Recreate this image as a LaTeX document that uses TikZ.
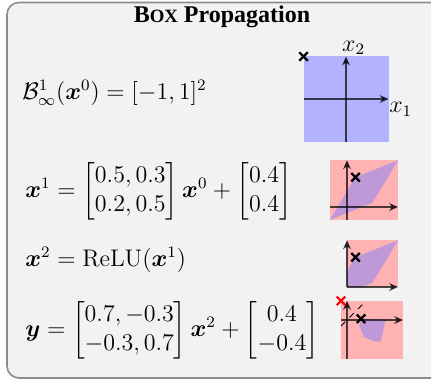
\documentclass[tikz,border=0pt]{standalone}
\usepackage{amsmath,bm}
\usepackage[no-math]{fontspec}
\newfontfamily\titlefont{Liberation Serif}
\usetikzlibrary{arrows.meta}
\newcommand\Cross[2]{%
    \draw[#2, line width=1.1pt] #1 ++(-0.1,-0.1) -- ++(0.2,0.2);%
    \draw[#2, line width=1.1pt] #1 ++(-0.1,0.1) -- ++(0.2,-0.2);%
}
\newcommand\Axes[4]{%
    \draw[axis] (#1,0) -- (#2,0);%
    \draw[axis] (0,#3) -- (0,#4);%
}
\tikzset{
    axis/.style={black, opacity=0.7, line width=0.6pt,
        -{Stealth[length=4.5pt,width=4pt]}},
    formula/.style={anchor=west, inner sep=0pt,
        font=\fontsize{12}{14.5}\selectfont},
    boxset/.style={fill=red!30},
    reach/.style={fill=blue!50, opacity=0.5},
    plot/.style={x=21.25pt, y=21.25pt},
}

\begin{document}
\begin{tikzpicture}[x=0.5pt, y=-0.5pt]
\useasboundingbox (0,0) rectangle (431,379);
\clip (0,0) rectangle (431,379);
\draw[rounded corners=6pt, draw=black!45, fill=gray!10, line width=0.8pt]
    (7,2.5) rectangle (445,378);
\node[font=\titlefont\fontsize{12}{14}\selectfont\bfseries] (title) at (222,17)
    {B{\fontsize{9.4}{11}\selectfont OX} Propagation};

% the rows
\node[formula] (ball) at (22,93) {$\mathcal{B}^1_\infty(\bm{x}^0) = [-1,1]^2$};
\node[formula] (lin1) at (25,191)
    {$\bm{x}^1 = \begin{bmatrix}0.5, 0.3\\0.2, 0.5\end{bmatrix}\bm{x}^0
    + \begin{bmatrix}0.4\\0.4\end{bmatrix}$};
\node[formula] (relu) at (25,260) {$\bm{x}^2 = \mathrm{ReLU}(\bm{x}^1)$};
\node[formula] (lin2) at (25,330)
    {$\bm{y} = \begin{bmatrix}0.7, -0.3\\-0.3, 0.7\end{bmatrix}\bm{x}^2
    + \begin{bmatrix}0.4\\-0.4\end{bmatrix}$};

% input box
\begin{scope}[shift={(346,99)}, plot]
    \fill[blue!30] (-1,-1) rectangle (1,1);
    \Axes{-1}{1}{-1}{1}
    \Cross{(-1,1)}{black}
    \node[formula, anchor=north west] (xone) at (1.01,-0.07) {$x_1$};
    \node[formula, anchor=south west] (xtwo) at (-0.1,1.03) {$x_2$};
\end{scope}

% first layer
\begin{scope}[shift={(347,207)}, plot]
    \fill[boxset] (-0.4,-0.3) rectangle (1.2,1.1);
    \fill[reach] (-0.4,-0.3) -- (0.6,0.1) -- (1.2,1.1) -- (0.2,0.7) -- cycle;
    \Axes{-0.4}{1.2}{-0.3}{1.1}
    \Cross{(0.2,0.7)}{black}
\end{scope}

% relu
\begin{scope}[shift={(347,287)}, plot]
    \fill[boxset] (0,0) rectangle (1.2,1.1);
    \fill[reach] (0,0) -- (0.35,0) -- (0.6,0.1) -- (1.2,1.1) -- (0.2,0.7)
        -- (0,0.367) -- cycle;
    \Axes{0}{1.2}{0}{1.1}
    \Cross{(0.2,0.7)}{black}
\end{scope}

% output layer
\begin{scope}[shift={(347,320)}, plot]
    \fill[boxset] (-0.14,-0.92) rectangle (1.32,0.45);
    \fill[reach] (0.4,-0.4) -- (0.645,-0.505) -- (0.79,-0.51) -- (0.91,0.01)
        -- (0.33,0.03) -- (0.29,-0.143) -- cycle;
    \Axes{-0.14}{1.32}{-0.92}{0.45}
    \draw[black, line width=0.5pt, dash pattern=on 3pt off 3pt]
        (-0.14,-0.14) -- (0.45,0.45);
    \Cross{(0.33,0.03)}{black}
    \Cross{(-0.14,0.45)}{red}
\end{scope}
\end{tikzpicture}
\end{document}
